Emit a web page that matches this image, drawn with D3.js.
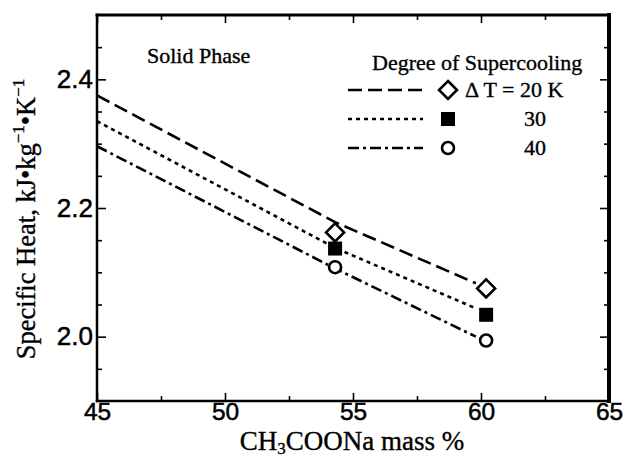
<!DOCTYPE html>
<html>
<head>
<meta charset="utf-8">
<script src="https://cdn.jsdelivr.net/npm/d3@7"></script>
<style>
  html, body { margin: 0; padding: 0; background: #fff; }
  svg { display: block; }
  .serif { font-family: "Liberation Serif", "Times New Roman", serif; stroke: #000; stroke-width: 0.35px; }
  .sans { font-family: "Liberation Sans", Arial, sans-serif; stroke: #000; stroke-width: 0.5px; }
</style>
</head>
<body>
<svg id="chart" width="625" height="459"></svg>
<script>
// Composition of sodium acetate solution (mass %)
const massPct = [54.3, 60.2];
// Measured specific heat of the solid phase, kJ/(kg·K), per degree of supercooling
const cp20 = [2.162, 2.075];
const cp30 = [2.137, 2.034];
const cp40 = [2.108, 1.994];
// Fitted trend lines
const fitX = [45, 54.3, 59.8];
const fit20 = [2.375, 2.178, 2.083];
const fit30 = [2.335, 2.138, 2.044];
const fit40 = [2.296, 2.106, 2.0];
// Axis ticks
const xMajor = [45, 50, 55, 60, 65];
const xMinor = [47.5, 52.5, 57.5, 62.5];
const yMajor = [2.0, 2.2, 2.4];
const yMinor = [1.95, 2.05, 2.1, 2.15, 2.25, 2.3, 2.35, 2.45];
const legendLabels = ["\u0394 T = 20 K", "30", "40"];

const svg = d3.select("#chart");
const L = 97, R = 609, T = 15, B = 401;
const x = d3.scaleLinear().domain([45, 65]).range([L, R]);
const y = d3.scaleLinear().domain([1.9, 2.5]).range([B, T]);

// Axes with inward ticks on all four sides
const ax = svg.append("g");
function styleAxis(g) {
  g.select(".domain").remove();
  g.selectAll(".tick line").attr("stroke", "#000").attr("stroke-width", 1.6);
}
function styleLabels(size) {
  return g => g.selectAll("text").attr("class", "sans").attr("font-size", size)
    .attr("fill", "#000").attr("font-family", null);
}
ax.append("g").attr("transform", `translate(0,${B})`)
  .call(d3.axisBottom(x).tickValues(xMajor).tickSize(-8).tickPadding(1).tickFormat(d3.format("d")))
  .call(styleAxis).call(styleLabels(24.5))
  .call(g => g.selectAll("text").attr("dy", "0.72em"));
ax.append("g").attr("transform", `translate(0,${B})`)
  .call(d3.axisBottom(x).tickValues(xMinor).tickSize(-5).tickFormat(""))
  .call(styleAxis);
ax.append("g").attr("transform", `translate(0,${T})`)
  .call(d3.axisTop(x).tickValues(xMajor).tickSize(-8).tickFormat(""))
  .call(styleAxis);
ax.append("g").attr("transform", `translate(0,${T})`)
  .call(d3.axisTop(x).tickValues(xMinor).tickSize(-5).tickFormat(""))
  .call(styleAxis);
ax.append("g").attr("transform", `translate(${L},0)`)
  .call(d3.axisLeft(y).tickValues(yMajor).tickSize(-9).tickPadding(4).tickFormat(d3.format(".1f")))
  .call(styleAxis).call(styleLabels(26));
ax.append("g").attr("transform", `translate(${L},0)`)
  .call(d3.axisLeft(y).tickValues(yMinor).tickSize(-5).tickFormat(""))
  .call(styleAxis);
ax.append("g").attr("transform", `translate(${R},0)`)
  .call(d3.axisRight(y).tickValues(yMajor).tickSize(-9).tickFormat(""))
  .call(styleAxis);
ax.append("g").attr("transform", `translate(${R},0)`)
  .call(d3.axisRight(y).tickValues(yMinor).tickSize(-5).tickFormat(""))
  .call(styleAxis);

// Plot frame
const frame = svg.append("g").attr("stroke", "#000").attr("stroke-linecap", "square");
frame.append("line").attr("x1", L).attr("x2", R).attr("y1", T).attr("y2", T).attr("stroke-width", 3);
frame.append("line").attr("x1", L).attr("x2", R).attr("y1", B).attr("y2", B).attr("stroke-width", 2.5);
frame.append("line").attr("x1", L).attr("x2", L).attr("y1", T).attr("y2", B).attr("stroke-width", 2.5);
frame.append("line").attr("x1", R).attr("x2", R).attr("y1", T).attr("y2", B).attr("stroke-width", 4);

// Trend lines
const dashes = ["14,6", "4,4", "11,4,3,4"];
const fits = [fit20, fit30, fit40];
const line = d3.line().x(d => x(d[0])).y(d => y(d[1]));
fits.forEach((f, i) => {
  svg.append("path")
    .datum(fitX.map((v, j) => [v, f[j]]))
    .attr("d", line)
    .attr("fill", "none").attr("stroke", "#000").attr("stroke-width", 2.6)
    .attr("stroke-dasharray", dashes[i]);
});

// Markers: open diamond, filled square, open circle
function drawMarker(g, kind, cx, cy) {
  if (kind === 0) {
    g.append("path").attr("d", "M0,-9L9,0L0,9L-9,0Z")
      .attr("transform", `translate(${cx},${cy})`)
      .attr("fill", "#fff").attr("stroke", "#000").attr("stroke-width", 2.6);
  } else if (kind === 1) {
    g.append("rect").attr("x", cx - 7).attr("y", cy - 7).attr("width", 14).attr("height", 14).attr("fill", "#000");
  } else {
    g.append("circle").attr("cx", cx).attr("cy", cy).attr("r", 6)
      .attr("fill", "#fff").attr("stroke", "#000").attr("stroke-width", 2.6);
  }
}
const series = [cp20, cp30, cp40];
const marks = svg.append("g");
series.forEach((s, i) => s.forEach((v, j) => drawMarker(marks, i, x(massPct[j]), y(v))));

// Annotations
svg.append("text").attr("class", "serif").attr("x", 147).attr("y", 63)
  .attr("font-size", 22).text("Solid Phase");

const lg = svg.append("g");
lg.append("text").attr("class", "serif").attr("x", 372).attr("y", 70)
  .attr("font-size", 22).text("Degree of Supercooling");
const rowY = [90, 119, 148];
rowY.forEach((ry, i) => {
  lg.append("line").attr("x1", 348).attr("x2", 423).attr("y1", ry).attr("y2", ry)
    .attr("stroke", "#000").attr("stroke-width", 2.6).attr("stroke-dasharray", dashes[i]);
  drawMarker(lg, i, 448, ry);
  lg.append("text").attr("class", "serif").attr("x", i === 0 ? 465 : 524).attr("y", ry + 7)
    .attr("font-size", 22).text(legendLabels[i]);
});

// Axis titles
const xt = svg.append("text").attr("class", "serif").attr("x", 352).attr("y", 450)
  .attr("text-anchor", "middle").attr("font-size", 27);
xt.append("tspan").text("CH");
xt.append("tspan").attr("font-size", 17).attr("dy", 4).text("3");
xt.append("tspan").attr("dy", -4).text("COONa mass %");

const yt = svg.append("text").attr("class", "serif")
  .attr("transform", `translate(35,${(T + B) / 2 + 11}) rotate(-90)`)
  .attr("text-anchor", "middle").attr("font-size", 26.5);
yt.append("tspan").text("Specific Heat, kJ\u2022kg");
yt.append("tspan").attr("font-size", 17).attr("dy", -11).text("\u22121");
yt.append("tspan").attr("dy", 11).text("\u2022K");
yt.append("tspan").attr("font-size", 17).attr("dy", -11).text("\u22121");
</script>
</body>
</html>
